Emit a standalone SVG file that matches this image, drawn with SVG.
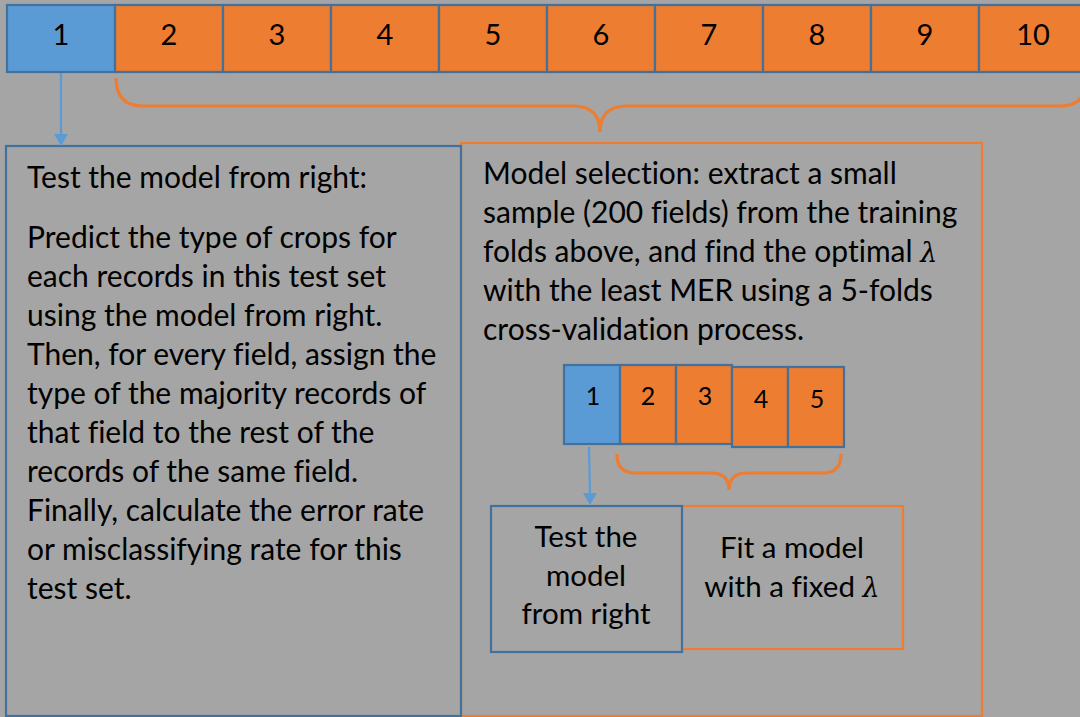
<svg xmlns="http://www.w3.org/2000/svg" width="1080" height="717" viewBox="0 0 1080 717">
<style>
.bg{fill:#A5A5A5}
.cb{fill:#5B9BD5;stroke:#41719C;stroke-width:2.2}
.co{fill:#ED7D31;stroke:#41719C;stroke-width:2.2}
.bx{fill:none;stroke:#41719C;stroke-width:2.2}
.ox{fill:none;stroke:#ED7D31;stroke-width:2.2}
.brace{fill:none;stroke:#ED7D31;stroke-width:3.2;stroke-linecap:butt}
.arr{stroke:#5B9BD5;stroke-width:2.2}
.ah{fill:#5B9BD5}
text{font-family:Lato,"Liberation Sans",sans-serif;fill:#000;font-variant-ligatures:none}
.n{font-size:29px;text-anchor:middle}
.ns{font-size:25px;text-anchor:middle}
.t{font-size:30px}
.c{font-size:29.5px;text-anchor:middle}
.lam{font-family:"DejaVu Serif","Liberation Serif",serif;font-style:italic;font-size:27px}
</style>
<rect class="bg" x="0" y="0" width="1080" height="717"/>

<g id="bigbox-right">
<rect class="ox" x="461" y="143" width="521" height="573"/>
<text class="t" x="483" y="184">Model selection: extract a small</text>
<text class="t" x="483" y="223">sample (200 fields) from the training</text>
<text class="t" x="483" y="262">folds above, and find the optimal <tspan class="lam">λ</tspan></text>
<text class="t" x="483" y="301">with the least MER using a 5-folds</text>
<text class="t" x="483" y="340">cross-validation process.</text>
</g>

<g id="bigbox-left">
<rect class="bx" x="6" y="146" width="455" height="570"/>
<text class="t" x="27" y="188">Test the model from right:</text>
<text class="t" x="27" y="248">Predict the type of crops for</text>
<text class="t" x="27" y="287">each records in this test set</text>
<text class="t" x="27" y="326">using the model from right.</text>
<text class="t" x="27" y="365">Then, for every field, assign the</text>
<text class="t" x="27" y="404">type of the majority records of</text>
<text class="t" x="27" y="443">that field to the rest of the</text>
<text class="t" x="27" y="482">records of the same field.</text>
<text class="t" x="27" y="521">Finally, calculate the error rate</text>
<text class="t" x="27" y="560">or misclassifying rate for this</text>
<text class="t" x="27" y="599">test set.</text>
</g>

<g id="fold-1"><rect class="cb" x="7" y="5" width="108" height="67"/><text class="n" x="61" y="45">1</text></g>
<g id="fold-2"><rect class="co" x="115" y="5" width="108" height="67"/><text class="n" x="169" y="45">2</text></g>
<g id="fold-3"><rect class="co" x="223" y="5" width="108" height="67"/><text class="n" x="277" y="45">3</text></g>
<g id="fold-4"><rect class="co" x="331" y="5" width="108" height="67"/><text class="n" x="385" y="45">4</text></g>
<g id="fold-5"><rect class="co" x="439" y="5" width="108" height="67"/><text class="n" x="493" y="45">5</text></g>
<g id="fold-6"><rect class="co" x="547" y="5" width="108" height="67"/><text class="n" x="601" y="45">6</text></g>
<g id="fold-7"><rect class="co" x="655" y="5" width="108" height="67"/><text class="n" x="709" y="45">7</text></g>
<g id="fold-8"><rect class="co" x="763" y="5" width="108" height="67"/><text class="n" x="817" y="45">8</text></g>
<g id="fold-9"><rect class="co" x="871" y="5" width="108" height="67"/><text class="n" x="925" y="45">9</text></g>
<g id="fold-10"><rect class="co" x="979" y="5" width="108" height="67"/><text class="n" x="1033" y="45">10</text></g>

<g id="sfold-1"><rect class="cb" x="564" y="365" width="56" height="79"/><text class="ns" x="593" y="405">1</text></g>
<g id="sfold-2"><rect class="co" x="620" y="365" width="56" height="79"/><text class="ns" x="648" y="405">2</text></g>
<g id="sfold-3"><rect class="co" x="676" y="365" width="56" height="79"/><text class="ns" x="705" y="405">3</text></g>
<g id="sfold-4"><rect class="co" x="732" y="367" width="56" height="80"/><text class="ns" x="761" y="408">4</text></g>
<g id="sfold-5"><rect class="co" x="788" y="367" width="56" height="80"/><text class="ns" x="817" y="408">5</text></g>

<g id="fit-box">
<rect class="ox" x="682" y="506" width="221" height="143"/>
<text class="c" x="792" y="558">Fit a model</text>
<text class="c" x="792" y="597">with a fixed <tspan class="lam">λ</tspan></text>
</g>
<g id="test-box">
<rect class="bx" x="491" y="506" width="191" height="146"/>
<text class="c" x="586" y="547">Test the</text>
<text class="c" x="586" y="586">model</text>
<text class="c" x="586" y="624">from right</text>
</g>

<g id="connectors">
<path class="brace" d="M116,78 Q116,106 143,106 L573,106 Q600,106 600,132 Q600,106 627,106 L1060,106 Q1087,106 1087,78"/>
<line class="arr" x1="61" y1="73" x2="61" y2="135"/>
<polygon class="ah" points="54,134 68,134 61,146"/>
<path class="brace" d="M617,454 Q617,473 635,473 L711,473 Q729,473 729,490 Q729,473 747,473 L823,473 Q841,473 841,454"/>
<line class="arr" x1="589" y1="447" x2="590" y2="494"/>
<polygon class="ah" points="583,493 597,493 590,505"/>
</g>
</svg>
